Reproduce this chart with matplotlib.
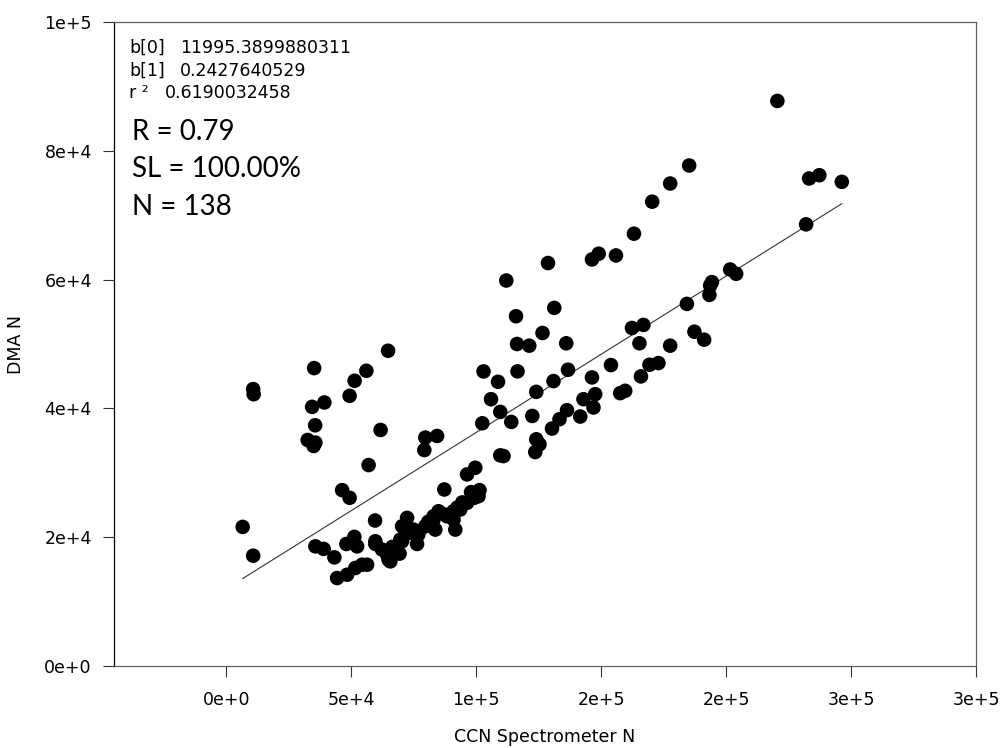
import math
import matplotlib
matplotlib.use("Agg")
import matplotlib.pyplot as plt
from matplotlib.ticker import FuncFormatter

# Datos (CCN Spectrometer N vs DMA N)
ccn_n = [6500, 10700, 10900, 10700,
         32500, 35600, 34900, 35500, 34300, 39200, 35100, 49300, 51300, 56000,
         64700, 61700, 56900, 46300, 49300,
         35600, 38900, 43200, 48000, 51200, 52300, 44300, 48300, 51600, 54300,
         56300, 59500, 59600, 62300, 64300, 65600, 69300, 76300, 70300, 72300,
         72300, 74900, 69600, 79600, 82900, 85600, 83600, 90900, 93600, 96300,
         91600, 100900, 90900, 87200, 79600, 84300, 79200, 96300, 99600, 97900,
         101300, 99200, 94300,
         102900, 108700, 105900, 109600, 102400, 109600, 110900, 112000, 115900,
         116300, 121200, 116500, 114000, 122400, 124000, 124000, 125300, 123600,
         126500, 128700, 131200, 130900, 136000, 136700, 130300, 133300, 136300,
         141600, 142900, 147600, 146900, 146300, 146300, 149000, 155900, 153900,
         157600, 159600, 163100, 165900, 165300, 162300, 166900, 169300, 172900,
         177600, 170400, 177600, 185200, 184300, 187300, 191200, 193600, 194300,
         193300, 201600, 204000, 220500, 232000, 233200, 237300, 246300,
         59600, 70300, 80300, 82900, 84900, 88300, 64900,
         92400, 94400, 73600, 80800, 87600, 76800, 66400]
dma_n = [21600, 43000, 42200, 17130,
         35100, 34690, 34160, 37380, 40240, 40920, 46260, 41950, 44290, 45840,
         48950, 36650, 31200, 27310, 26120,
         18580, 18180, 16870, 18950, 20050, 18580, 13660, 14170, 15220, 15730,
         15730, 22590, 18950, 18070, 17290, 16250, 17450, 18950, 21700, 23000,
         20670, 21180, 19630, 21700, 22740, 23780, 21180, 22740, 24300, 25340,
         21180, 26370, 24040, 27410, 35470, 35720, 33530, 29750, 30790, 26990,
         27310, 26120, 25080,
         45740, 44130, 41430, 39460, 37690, 32710, 32600, 59860, 54310,
         50000, 49740, 45750, 37900, 38830, 42570, 35200, 34420, 33220,
         51710, 62570, 55610, 44240, 50110, 46000, 36870, 38320, 39720,
         38740, 41430, 42210, 40140, 44810, 63130, 64020, 63750, 46730,
         42370, 42730, 67130, 44970, 50110, 52490, 52960, 46780, 47040,
         49740, 72100, 74920, 77720, 56230, 51910, 50670, 59080, 59610,
         57630, 61570, 60900, 87740, 68580, 75700, 76210, 75180,
         19370, 19370, 21960, 23250, 24030, 23250, 16510,
         24600, 25400, 20700, 22400, 23500, 20400, 18500]

# Coeficientes de la regresión
b0 = 11995.3899880311
b1 = 0.2427640529
r2 = 0.6190032458

x_ticks = [0, 50000, 100000, 150000, 200000, 250000, 300000]
y_ticks = [0, 20000, 40000, 60000, 80000, 100000]


def fmt_sci(v, pos=None):
    # formato tipo SigmaPlot: 1 cifra, exponente sin ceros
    if v == 0:
        return "0e+0"
    e = int(math.floor(math.log10(abs(v))))
    m = int(math.floor(abs(v) / 10 ** e + 0.5))
    if m == 10:
        m, e = 1, e + 1
    return f"{'-' if v < 0 else ''}{m}e{'+' if e >= 0 else '-'}{abs(e)}"


fig = plt.figure(figsize=(10.02, 7.48), dpi=100)
ax = fig.add_axes([114 / 1002, 1 - 666 / 748, (976 - 114) / 1002, (666 - 22) / 748])

ax.scatter(ccn_n, dma_n, s=110, color="black", edgecolors="none", zorder=3)

# Recta de ajuste entre el mínimo y el máximo de x
x0, x1 = min(ccn_n), max(ccn_n)
ax.plot([x0, x1], [b0 + b1 * x0, b0 + b1 * x1], color="#333333", lw=0.8, zorder=2)

ax.set_xlim(-45000, 300000)
ax.set_ylim(0, 100000)
ax.set_xticks(x_ticks)
ax.set_yticks(y_ticks)
ax.xaxis.set_major_formatter(FuncFormatter(fmt_sci))
ax.yaxis.set_major_formatter(FuncFormatter(fmt_sci))
ax.tick_params(axis="both", direction="out", length=8, width=0.8, colors="#333333",
               labelcolor="black", labelsize=12.5)
ax.tick_params(axis="x", pad=10)
ax.tick_params(axis="y", pad=8)

for side in ["top", "right", "bottom"]:
    ax.spines[side].set_color("#606060")
    ax.spines[side].set_linewidth(0.9)
ax.spines["left"].set_color("black")
ax.spines["left"].set_linewidth(0.9)

ax.set_xlabel("CCN Spectrometer N", fontsize=12.5, labelpad=14)
ax.set_ylabel("DMA N", fontsize=12.5, labelpad=14)

# Texto de la regresión
fs = 12.5
fig.text(129 / 1002, 1 - 48 / 748, "b[0]", fontsize=fs, va="center")
fig.text(180 / 1002, 1 - 48 / 748, f"{b0}", fontsize=fs, va="center")
fig.text(129 / 1002, 1 - 71 / 748, "b[1]", fontsize=fs, va="center")
fig.text(180 / 1002, 1 - 71 / 748, f"{b1}", fontsize=fs, va="center")
fig.text(129 / 1002, 1 - 93 / 748, "r ²", fontsize=fs, va="center")
fig.text(165 / 1002, 1 - 93 / 748, f"{r2}", fontsize=fs, va="center")

big = dict(fontsize=20, family="Lato", va="center")
fig.text(132 / 1002, 1 - 132 / 748, "R = 0.79", **big)
fig.text(132 / 1002, 1 - 169 / 748, "SL = 100.00%", **big)
fig.text(132 / 1002, 1 - 207 / 748, "N = 138", **big)

fig.savefig("out.png", dpi=100)
